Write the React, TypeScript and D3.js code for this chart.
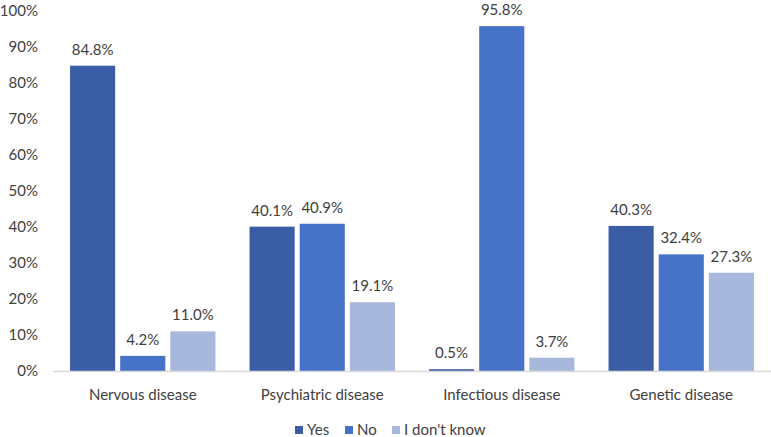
import React from "react";
import * as d3 from "d3";

const categories = ["Nervous disease", "Psychiatric disease", "Infectious disease", "Genetic disease"];
const seriesNames = ["Yes", "No", "I don't know"];
const yesValues = [84.8, 40.1, 0.5, 40.3];
const noValues = [4.2, 40.9, 95.8, 32.4];
const idkValues = [11.0, 19.1, 3.7, 27.3];
const yTicks = [0, 10, 20, 30, 40, 50, 60, 70, 80, 90, 100];
const colors = ["#3A5DA6", "#4673C8", "#A8B7DC"];

export default function App() {
  const W = 771, H = 437;
  const left = 53, right = 771, top = 11, bottom = 371;
  const font = "Lato, 'Open Sans', sans-serif";
  const x0 = d3.scaleBand<string>().domain(categories).range([left, right]).paddingInner(0.19).paddingOuter(0.095);
  const x1 = d3.scaleBand<string>().domain(seriesNames).range([0, x0.bandwidth()]).paddingInner(0.1);
  const y = d3.scaleLinear().domain([0, 100]).range([bottom, top]);
  const series = [yesValues, noValues, idkValues];

  const legendX = [295, 345, 392];
  return (
    <div style={{ position: "absolute", left: 0, top: 0 }}>
      <svg width={W} height={H} style={{ display: "block", background: "#fff" }} fontFamily={font}>
        {yTicks.map((t) => (
          <text key={t} x={38} y={y(t)} dy="0.35em" textAnchor="end" fontSize={15} fill="#404040">
            {t}%
          </text>
        ))}
        {series.map((vals, si) =>
          categories.map((c, ci) => {
            const bx = (x0(c) as number) + (x1(seriesNames[si]) as number);
            const bw = x1.bandwidth();
            return (
              <g key={`${si}-${ci}`}>
                <rect x={bx} y={y(vals[ci])} width={bw} height={bottom - y(vals[ci])} fill={colors[si]} />
                <text x={bx + bw / 2} y={y(vals[ci]) - 11} textAnchor="middle" fontSize={15} fill="#404040">
                  {vals[ci].toFixed(1)}%
                </text>
              </g>
            );
          })
        )}
        <line x1={left} x2={right} y1={bottom + 0.5} y2={bottom + 0.5} stroke="#D9D9D9" strokeWidth={1.5} />
        {categories.map((c) => (
          <text key={c} x={(x0(c) as number) + x0.bandwidth() / 2} y={395} dy="0.35em" textAnchor="middle" fontSize={15} fill="#404040">
            {c}
          </text>
        ))}
        {seriesNames.map((s, i) => (
          <g key={s}>
            <rect x={legendX[i]} y={426} width={8} height={8} fill={colors[i]} />
            <text x={legendX[i] + 12} y={430} dy="0.35em" fontSize={15} fill="#404040">
              {s}
            </text>
          </g>
        ))}
      </svg>
    </div>
  );
}
